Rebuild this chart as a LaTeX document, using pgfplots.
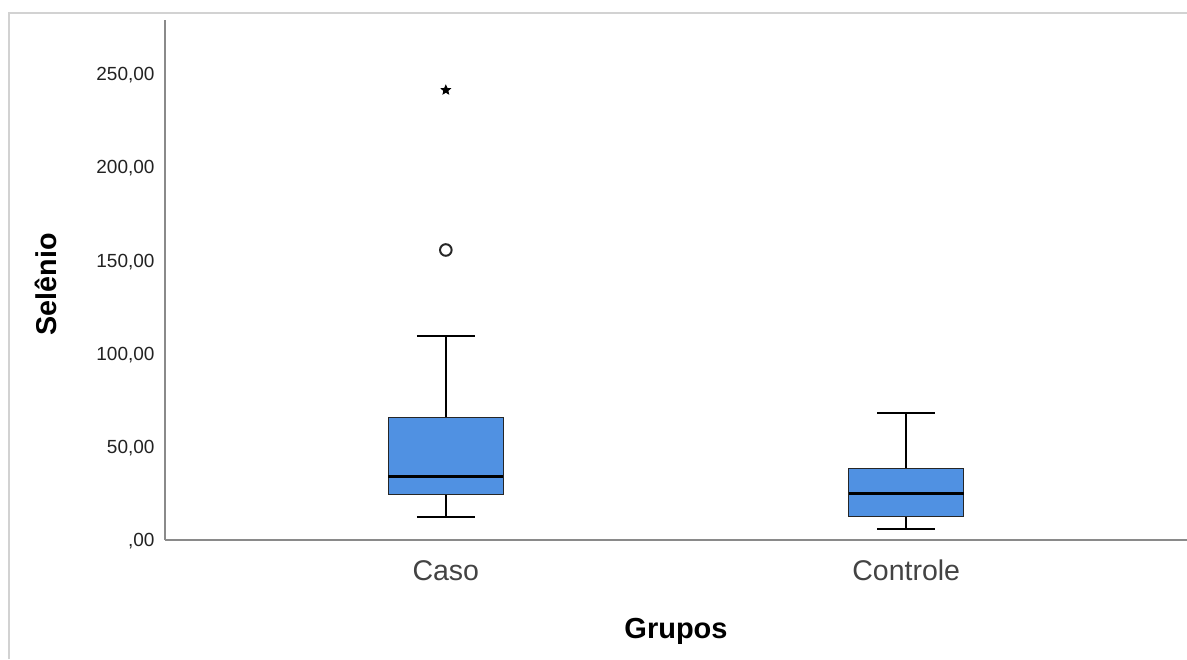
\documentclass[border=0pt]{standalone}
\usepackage{fontspec}
\setmainfont{Liberation Sans}
\usepackage{pgfplots}
\pgfplotsset{compat=1.18}
\usepgfplotslibrary{statistics}
\definecolor{boxblue}{RGB}{80,145,226}
\definecolor{axgray}{RGB}{138,138,138}
\definecolor{framegray}{RGB}{210,210,210}
\definecolor{txt}{RGB}{34,34,34}
\pgfdeclareplotmark{fstar}{%
  \pgfpathmoveto{\pgfqpointpolar{90}{\pgfplotmarksize}}%
  \pgfpathlineto{\pgfqpointpolar{126}{0.45\pgfplotmarksize}}%
  \pgfpathlineto{\pgfqpointpolar{162}{\pgfplotmarksize}}%
  \pgfpathlineto{\pgfqpointpolar{198}{0.45\pgfplotmarksize}}%
  \pgfpathlineto{\pgfqpointpolar{234}{\pgfplotmarksize}}%
  \pgfpathlineto{\pgfqpointpolar{270}{0.45\pgfplotmarksize}}%
  \pgfpathlineto{\pgfqpointpolar{306}{\pgfplotmarksize}}%
  \pgfpathlineto{\pgfqpointpolar{342}{0.45\pgfplotmarksize}}%
  \pgfpathlineto{\pgfqpointpolar{18}{\pgfplotmarksize}}%
  \pgfpathlineto{\pgfqpointpolar{54}{0.45\pgfplotmarksize}}%
  \pgfpathclose
  \pgfusepathqfillstroke}
\begin{document}
\begin{tikzpicture}
\draw[framegray, line width=0.8pt] (4.5pt,0pt) -- (4.5pt,323pt) -- (593.5pt,323pt);
\begin{axis}[
  at={(82.5pt,59.5pt)}, anchor=south west,
  scale only axis, width=511pt, height=260pt,
  xmin=0.39, xmax=2.61, ymin=0, ymax=279,
  axis x line=bottom, axis y line=left,
  axis line style={-, axgray, line width=0.8pt},
  major tick length=0.1pt,
  tick style={draw=none},
  xtick={1,2}, xticklabels={Caso,Controle},
  ytick={0,50,100,150,200,250},
  yticklabels={{,00},{50,00},{100,00},{150,00},{200,00},{250,00}},
  /pgf/number format/assume math mode=true,
  yticklabel style={font=\fontsize{9.5}{11}\selectfont, text=txt, inner sep=0pt, anchor=base east, xshift=-5pt, yshift=-3.35pt},
  xticklabel style={font=\fontsize{14.25}{16}\selectfont, text=txt!85, inner sep=0pt, anchor=base, yshift=-20.25pt},
  xlabel={Grupos}, ylabel={Selênio},
  xlabel style={font=\fontsize{14.5}{16}\selectfont\bfseries, inner sep=0pt, at={(axis description cs:0.5,0)}, anchor=base, yshift=-49.15pt},
  ylabel style={font=\fontsize{14.35}{16}\selectfont\bfseries, inner sep=0pt, at={(axis description cs:0,0.492)}, anchor=base, yshift=54pt},
  clip=false,
  boxplot/draw direction=y,
  boxplot/box extend=0.25,
  boxplot/whisker extend=0.126,
  boxplot/every box/.style={fill=boxblue, draw=black!85, line width=0.7pt},
  boxplot/every whisker/.style={black, line width=1pt},
  boxplot/every median/.style={black, line width=1.5pt},
]
\addplot[boxplot prepared={draw position=1, lower whisker=12.2, lower quartile=24.5, median=34.3, upper quartile=65.6, upper whisker=109.4}] coordinates {};
\addplot[boxplot prepared={draw position=2, lower whisker=5.7, lower quartile=12.5, median=24.7, upper quartile=38.3, upper whisker=68.3}] coordinates {};
\addplot[only marks, mark=o, mark size=2.9pt, mark options={black!85, line width=1pt}] coordinates {(1,155.6)};
\addplot[only marks, mark=fstar, mark size=2.4pt, mark options={draw=black, fill=black, line width=0.4pt}] coordinates {(1,241.4)};
\end{axis}
\pgfresetboundingbox
\useasboundingbox (0pt,0pt) rectangle (593.5pt,329.5pt);
\end{tikzpicture}
\end{document}
